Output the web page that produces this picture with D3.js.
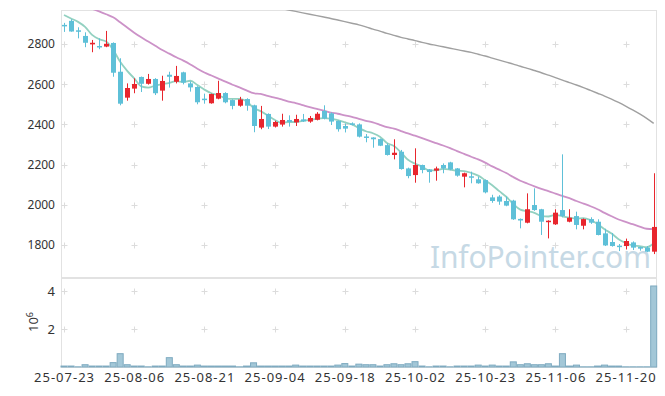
<!DOCTYPE html>
<html><head><meta charset="utf-8">
<script src="https://cdn.jsdelivr.net/npm/d3@7"></script>
<style>body{margin:0;background:#fff} svg{display:block}</style>
</head><body><svg id="c" width="665" height="396"></svg>
<script>
const dates = ["25-07-23","25-07-24","25-07-25","25-07-28","25-07-29","25-07-30","25-07-31",
"25-08-01","25-08-04","25-08-05","25-08-06","25-08-07","25-08-08","25-08-11","25-08-12","25-08-13","25-08-14",
"25-08-18","25-08-19","25-08-20","25-08-21","25-08-22","25-08-25","25-08-26","25-08-27","25-08-28","25-08-29",
"25-09-01","25-09-02","25-09-03","25-09-04","25-09-05","25-09-08","25-09-09","25-09-10","25-09-11","25-09-12",
"25-09-15","25-09-16","25-09-17","25-09-18","25-09-19","25-09-22","25-09-23","25-09-24","25-09-25","25-09-26",
"25-09-29","25-09-30","25-10-01","25-10-02","25-10-10","25-10-13","25-10-14","25-10-15","25-10-16","25-10-17",
"25-10-20","25-10-21","25-10-22","25-10-23","25-10-24","25-10-27","25-10-28","25-10-29","25-10-30","25-10-31",
"25-11-03","25-11-04","25-11-05","25-11-06","25-11-07","25-11-10","25-11-11","25-11-12","25-11-13","25-11-14",
"25-11-17","25-11-18","25-11-19","25-11-20","25-11-21","25-11-24","25-11-25","25-11-26"];

const open  = [2895,2915,2868,2840,2798,2790,2787,2805,2662,2533,2578,2636,2602,2626,2568,2647,2612,2659,2604,2586,
2528,2505,2528,2556,2521,2493,2526,2495,2384,2452,2389,2399,2422,2410,2425,2414,2423,2467,2455,2417,
2392,2405,2400,2340,2335,2327,2297,2248,2264,2181,2148,2198,2176,2170,2198,2211,2181,2140,2142,2127,
2123,2037,2041,2019,2021,1930,1911,1999,1978,1915,1903,1974,1916,1944,1896,1929,1916,1858,1815,1797,
1795,1813,1790,1787,1767];
const high  = [2905,2923,2883,2858,2820,2828,2865,2808,2729,2604,2629,2638,2651,2630,2642,2662,2691,2662,2614,2590,
2553,2553,2617,2560,2525,2537,2530,2498,2492,2455,2418,2453,2445,2448,2452,2442,2461,2495,2460,2420,
2404,2410,2405,2352,2336,2330,2306,2326,2273,2185,2281,2200,2178,2190,2206,2214,2183,2160,2165,2140,
2126,2050,2048,2041,2025,1932,2057,2082,1980,1923,1978,2251,1978,1966,1932,1938,1928,1881,1860,1805,
1832,1818,1792,1795,2157];
const low   = [2860,2861,2828,2784,2759,2774,2784,2637,2495,2518,2555,2561,2598,2546,2518,2583,2604,2599,2563,2500,
2503,2503,2525,2505,2475,2488,2468,2361,2376,2377,2385,2389,2389,2392,2412,2408,2420,2425,2397,2364,
2360,2395,2335,2311,2284,2292,2245,2226,2175,2132,2110,2157,2110,2120,2157,2172,2140,2087,2107,2105,
2057,2010,2000,1993,1925,1883,1908,1970,1850,1833,1900,1938,1913,1878,1878,1905,1848,1795,1792,1770,
1778,1775,1772,1765,1755];
const close = [2890,2862,2862,2806,2806,2786,2801,2657,2503,2581,2601,2602,2626,2555,2616,2637,2641,2608,2584,2510,
2524,2551,2556,2510,2492,2524,2493,2392,2427,2389,2412,2422,2412,2427,2415,2432,2453,2429,2414,2376,
2379,2400,2339,2334,2326,2294,2248,2259,2178,2143,2198,2173,2163,2181,2181,2176,2145,2157,2138,2107,
2062,2019,2016,1996,1928,1922,1978,1974,1916,1921,1961,1944,1936,1900,1929,1911,1850,1798,1795,1790,
1820,1787,1782,1767,1890];
const volume = [50000,50000,10000,120000,50000,50000,50000,230000,700000,120000,50000,50000,10000,50000,50000,490000,120000,50000,50000,100000,
50000,50000,50000,50000,50000,10000,50000,220000,50000,50000,50000,50000,50000,100000,50000,50000,50000,50000,50000,100000,
180000,50000,150000,120000,120000,50000,120000,170000,120000,170000,280000,50000,10000,50000,50000,10000,50000,50000,50000,100000,
50000,100000,50000,50000,270000,120000,170000,120000,120000,170000,50000,700000,50000,100000,10000,10000,50000,100000,50000,50000,
10000,10000,10000,10000,4260000];
const ma5 = [2944,2927,2910,2885,2845,2824,2812,2771,2711,2666,2629,2589,2583,2593,2600,2607,2615,2611,2617,2596,
2573,2555,2545,2530,2527,2527,2515,2482,2466,2445,2423,2408,2412,2412,2418,2422,2428,2431,2429,2421,
2410,2400,2382,2366,2356,2339,2308,2292,2261,2224,2205,2190,2171,2172,2179,2175,2169,2168,2159,2145,
2122,2097,2068,2040,2004,1976,1968,1960,1944,1942,1950,1943,1936,1932,1934,1924,1905,1878,1857,1829,
1811,1798,1795,1789,1809];
const ma20 = [null,null,null,null,2975,2962,2948,2933,2908,2882,2856,2833,2812,2791,2770,2752,2734,2717,2698,2677,
2658,2643,2628,2613,2597,2584,2569,2555,2552,2542,2533,2524,2513,2506,2496,2486,2477,2468,2459,2453,
2445,2438,2427,2418,2410,2398,2386,2379,2367,2355,2344,2332,2319,2307,2295,2282,2267,2253,2239,2226,
2210,2191,2175,2158,2138,2120,2106,2092,2079,2068,2056,2044,2033,2019,2006,1993,1978,1960,1943,1927,
1915,1904,1892,1881,1879];
const maLong = [null,null,null,null,null,null,null,null,null,null,null,null,null,null,null,null,null,null,null,null,
null,null,null,null,null,null,null,null,null,null,null,2976,2969,2962,2955,2948,2941,2934,2927,2919,
2911,2903,2895,2885,2874,2864,2853,2843,2833,2825,2817,2808,2800,2793,2786,2779,2772,2765,2758,2749,
2740,2730,2720,2710,2700,2689,2679,2668,2657,2645,2633,2620,2608,2596,2583,2569,2555,2541,2526,2509,
2491,2472,2452,2430,2405];
const priceTicks = [1800,2000,2200,2400,2600,2800];
const volTicks = [2000000,4000000];
const tickDates = ["25-07-23","25-08-06","25-08-21","25-09-04","25-09-18","25-10-02","25-10-23","25-11-06","25-11-20"];

const svg = d3.select("#c");
const L = 61, R = 657, T = 10, MB = 277, VT = 278, VB = 367;
const x = d3.scaleBand().domain(dates).range([60.5, 657.2]);
const bw = x.bandwidth();
const cx = d => x(d) + bw/2;
const y = d3.scaleLinear().domain([1641, 2969]).range([MB, T]);
const yv = d3.scaleLinear().domain([0, 4680000]).range([VB, VT]);
const font = "'Noto Sans', sans-serif";

const defs = svg.append("defs");
defs.append("clipPath").attr("id","cp").append("rect").attr("x",L).attr("y",T).attr("width",R-L).attr("height",MB-T);

// watermark
svg.append("text").attr("x",430).attr("y",268).attr("font-family",font).attr("font-size",30)
  .attr("fill","#c6d9e5").attr("textLength",221).text("InfoPointer.com");

// frames
svg.append("rect").attr("x",L+0.5).attr("y",T+0.5).attr("width",R-L-1).attr("height",MB-T).attr("fill","none").attr("stroke","#e2e2e2");
svg.append("rect").attr("x",L+0.5).attr("y",VT+0.5).attr("width",R-L-1).attr("height",VB-VT).attr("fill","none").attr("stroke","#e2e2e2");

// grid crosses
const crossG = svg.append("g").attr("stroke","#dcdcdc").attr("stroke-width",1);
function cross(px, py){
  crossG.append("line").attr("x1",px-3).attr("x2",px+3).attr("y1",py).attr("y2",py);
  crossG.append("line").attr("x1",px).attr("x2",px).attr("y1",py-3).attr("y2",py+3);
}
tickDates.forEach(d => {
  priceTicks.forEach(v => cross(Math.round(cx(d))+0.5, Math.round(y(v))+0.5));
  volTicks.forEach(v => cross(Math.round(cx(d))+0.5, Math.round(yv(v))+0.5));
});

// MA lines
const main = svg.append("g").attr("clip-path","url(#cp)");
function maLine(arr, color, w){
  const line = d3.line().defined(d => d != null).x((d,i) => cx(dates[i])).y(d => y(d)).curve(d3.curveMonotoneX);
  main.append("path").datum(arr).attr("d", line).attr("fill","none").attr("stroke",color).attr("stroke-width",w);
}
maLine(maLong, "#a0a0a0", 1.4);
maLine(ma20, "#cc92c8", 1.8);
maLine(ma5, "#93d1c1", 1.8);

// candles
const up = "#e8262d", down = "#5ec0d8";
const cg = main.append("g");
dates.forEach((d,i) => {
  const col = close[i] >= open[i] ? up : down;
  const xc = Math.round(cx(d));
  cg.append("line").attr("x1",xc+0.5).attr("x2",xc+0.5).attr("y1",y(high[i])).attr("y2",y(low[i])).attr("stroke",col).attr("stroke-width",1);
  const y0 = y(Math.max(open[i],close[i])), y1 = y(Math.min(open[i],close[i]));
  cg.append("rect").attr("x",xc-2).attr("y",y0).attr("width",5).attr("height",Math.max(1.5,y1-y0)).attr("fill",col);
});

// volume bars
svg.append("g").selectAll("rect").data(dates).join("rect")
  .attr("x", d => x(d)+0.5).attr("width", bw-1)
  .attr("y", (d,i) => yv(volume[i])).attr("height", (d,i) => VB - yv(volume[i]))
  .attr("fill","#a3c7d7").attr("stroke","#7eaac0").attr("stroke-width",1);

// axes
const ya = svg.append("g").attr("transform",`translate(${L},0)`)
  .call(d3.axisLeft(y).tickValues(priceTicks).tickSize(0).tickPadding(6).tickFormat(d3.format("d")));
const yva = svg.append("g").attr("transform",`translate(${L},0)`)
  .call(d3.axisLeft(yv).tickValues(volTicks).tickSize(0).tickPadding(6).tickFormat(d => d/1e6));
const xa = svg.append("g").attr("transform",`translate(0,${VB})`)
  .call(d3.axisBottom(x).tickValues(tickDates).tickSize(0).tickPadding(6));
[ya,yva,xa].forEach(g => {
  g.select(".domain").remove();
  g.selectAll("text").attr("font-family",font).attr("fill","#333");
});
ya.selectAll("text").attr("font-size",12);
yva.selectAll("text").attr("font-size",13);
xa.selectAll("text").attr("font-size",13).attr("letter-spacing","1px").attr("dx","0.5");

// 10^6 label
const lab = svg.append("text").attr("transform","translate(38,332) rotate(-90)")
  .attr("font-family",font).attr("font-size",13).attr("fill","#333");
lab.append("tspan").text("10");
lab.append("tspan").attr("dy",-5).attr("font-size",9).text("6");
</script></body></html>
